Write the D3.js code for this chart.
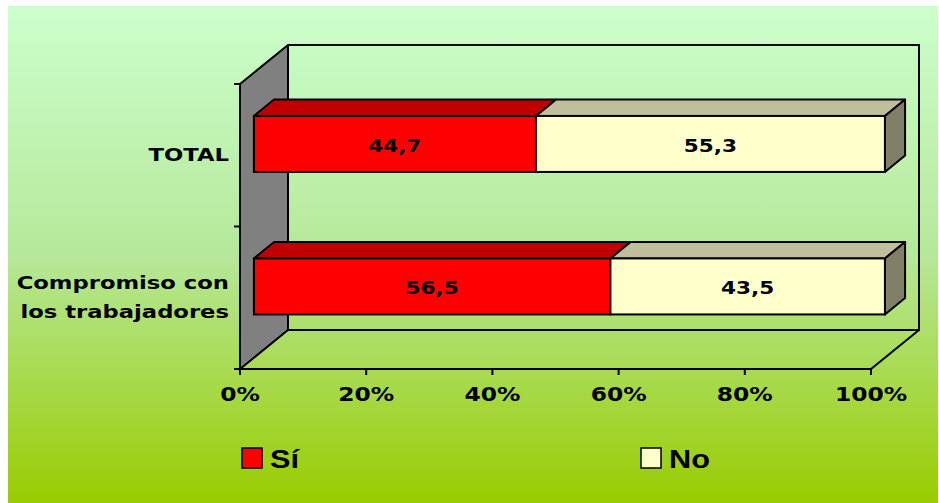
<!DOCTYPE html>
<html>
<head>
<meta charset="utf-8">
<script src="https://cdn.jsdelivr.net/npm/d3@7"></script>
<style>
  html, body { margin: 0; padding: 0; background: #ffffff; }
  svg { display: block; }
</style>
</head>
<body>
<svg id="chart" width="939" height="503"></svg>
<script>
// Survey answers per category (percent of respondents)
const categories = ["TOTAL", "Compromiso con los trabajadores"];
const categoryLines = [["TOTAL"], ["Compromiso con", "los trabajadores"]];
const seriesNames = ["Sí", "No"];
const siValues = [44.7, 56.5];
const noValues = [55.3, 43.5];
const xTickValues = [0, 20, 40, 60, 80, 100];

const W = 939, H = 503;
const svg = d3.select("#chart");

// Background panel with vertical green gradient
const defs = svg.append("defs");
const grad = defs.append("linearGradient").attr("id", "bg").attr("x1", 0).attr("y1", 0).attr("x2", 0).attr("y2", 1);
grad.append("stop").attr("offset", 0).attr("stop-color", "#ccffcc");
grad.append("stop").attr("offset", 0.5).attr("stop-color", "#b6e89a");
grad.append("stop").attr("offset", 1).attr("stop-color", "#99cc00");
svg.append("rect").attr("x", 8).attr("y", 6).attr("width", W - 9).attr("height", H - 6).attr("fill", "url(#bg)");

// Front plane scales
const x = d3.scaleLinear().domain([0, 100]).range([240, 871]);
const y = d3.scaleBand().domain(categories).range([84, 369]).paddingInner(0.607).paddingOuter(0.3035);

// Depth of the 3D box and where the bars sit inside it
const depth = [48, -39];
const t0 = 0.29, t1 = 0.71;
const off = t => [depth[0] * t, depth[1] * t];
const [fx, fy] = off(t0);
const [bx, by] = off(t1);
const [dx, dy] = off(1);

const x0 = x.range()[0], x1 = x.range()[1];
const yTop = y.range()[0], yBot = y.range()[1];
const line = d3.line();

// Left wall
svg.append("path")
  .attr("d", line([[x0, yTop], [x0 + dx, yTop + dy], [x0 + dx, yBot + dy], [x0, yBot]]) + "Z")
  .attr("fill", "#808080").attr("stroke", "#000").attr("stroke-width", 2).attr("stroke-linejoin", "round");

// Back wall outline
svg.append("path")
  .attr("d", line([[x0 + dx, yTop + dy], [x1 + dx, yTop + dy], [x1 + dx, yBot + dy], [x0 + dx, yBot + dy]]))
  .attr("fill", "none").attr("stroke", "#000").attr("stroke-width", 2);

// Floor edges
svg.append("path")
  .attr("d", line([[x0, yBot], [x1, yBot], [x1 + dx, yBot + dy]]))
  .attr("fill", "none").attr("stroke", "#000").attr("stroke-width", 2);

// Value axis ticks
svg.append("g").selectAll("line").data(xTickValues).join("line")
  .attr("x1", d => x(d)).attr("x2", d => x(d))
  .attr("y1", yBot).attr("y2", yBot + 6)
  .attr("stroke", "#000").attr("stroke-width", 2);

// Category axis ticks
const catTicks = [yTop, ...categories.slice(1).map(c => y(c) - y.step() * y.paddingInner() / 2), yBot];
svg.append("g").selectAll("line").data(catTicks).join("line")
  .attr("x1", x0 - 6).attr("x2", x0)
  .attr("y1", d => d).attr("y2", d => d)
  .attr("stroke", "#000").attr("stroke-width", 2);

// Stacked 3D bars
const colors = {
  "Sí": { front: "#ff0000", top: "#c00000", side: "#800000" },
  "No": { front: "#ffffcc", top: "#c0bf9c", side: "#808066" }
};
const bw = y.bandwidth();
const barsG = svg.append("g");
categories.forEach((cat, i) => {
  const segs = [
    { name: seriesNames[0], a: 0, b: siValues[i] },
    { name: seriesNames[1], a: siValues[i], b: siValues[i] + noValues[i] }
  ];
  const yb = y(cat);
  segs.forEach((s, j) => {
    const c = colors[s.name];
    const xa = x(s.a), xb = x(s.b);
    // top face
    barsG.append("path")
      .attr("d", line([[xa + fx, yb + fy], [xb + fx, yb + fy], [xb + bx, yb + by], [xa + bx, yb + by]]) + "Z")
      .attr("fill", c.top).attr("stroke", "#000").attr("stroke-width", 2).attr("stroke-linejoin", "round");
    // right side on the last segment
    if (j === segs.length - 1) {
      barsG.append("path")
        .attr("d", line([[xb + fx, yb + fy], [xb + bx, yb + by], [xb + bx, yb + by + bw], [xb + fx, yb + fy + bw]]) + "Z")
        .attr("fill", c.side).attr("stroke", "#000").attr("stroke-width", 2).attr("stroke-linejoin", "round");
    }
    // front face
    barsG.append("rect")
      .attr("x", xa + fx).attr("y", yb + fy)
      .attr("width", xb - xa).attr("height", bw)
      .attr("fill", c.front).attr("stroke", "#000").attr("stroke-width", 2);
    // value label
    const val = s.b - s.a;
    barsG.append("text")
      .attr("transform", `translate(${(xa + xb) / 2 + fx},${yb + fy + bw / 2 + 8}) scale(1.2,1)`)
      .attr("text-anchor", "middle")
      .attr("font-family", "DejaVu Sans, Verdana, sans-serif")
      .attr("font-weight", "bold").attr("font-size", 18)
      .attr("fill", "#000")
      .text(d3.format(".1f")(val).replace(".", ","));
  });
});

// Category labels
const labelFont = "DejaVu Sans, Verdana, sans-serif";
categories.forEach((cat, i) => {
  const lines = categoryLines[i];
  const cy = y(cat) + bw / 2;
  const lh = 29;
  lines.forEach((ln, k) => {
    const baseline = cy + 6 + (k - (lines.length - 1) / 2) * lh;
    svg.append("text")
      .attr("transform", `translate(229,${baseline}) scale(1.26,1)`)
      .attr("text-anchor", "end")
      .attr("font-family", labelFont).attr("font-weight", "bold").attr("font-size", 18)
      .attr("fill", "#000")
      .text(ln);
  });
});

// Value axis labels
svg.append("g").selectAll("text").data(xTickValues).join("text")
  .attr("transform", d => `translate(${x(d)},401) scale(1.23,1)`)
  .attr("text-anchor", "middle")
  .attr("font-family", labelFont).attr("font-weight", "bold").attr("font-size", 19)
  .attr("fill", "#000")
  .text(d => d + "%");

// Legend
const legendX = [242, 641];
const legend = svg.append("g");
seriesNames.forEach((name, i) => {
  legend.append("rect")
    .attr("x", legendX[i]).attr("y", 448).attr("width", 20).attr("height", 20)
    .attr("fill", colors[name].front).attr("stroke", "#000").attr("stroke-width", 1.5);
  legend.append("text")
    .attr("transform", `translate(${legendX[i] + 28},468) scale(1.18,1)`)
    .attr("font-family", "Liberation Sans, Arial, sans-serif")
    .attr("font-weight", "bold").attr("font-size", 26)
    .attr("fill", "#000")
    .text(name);
});
</script>
</body>
</html>
